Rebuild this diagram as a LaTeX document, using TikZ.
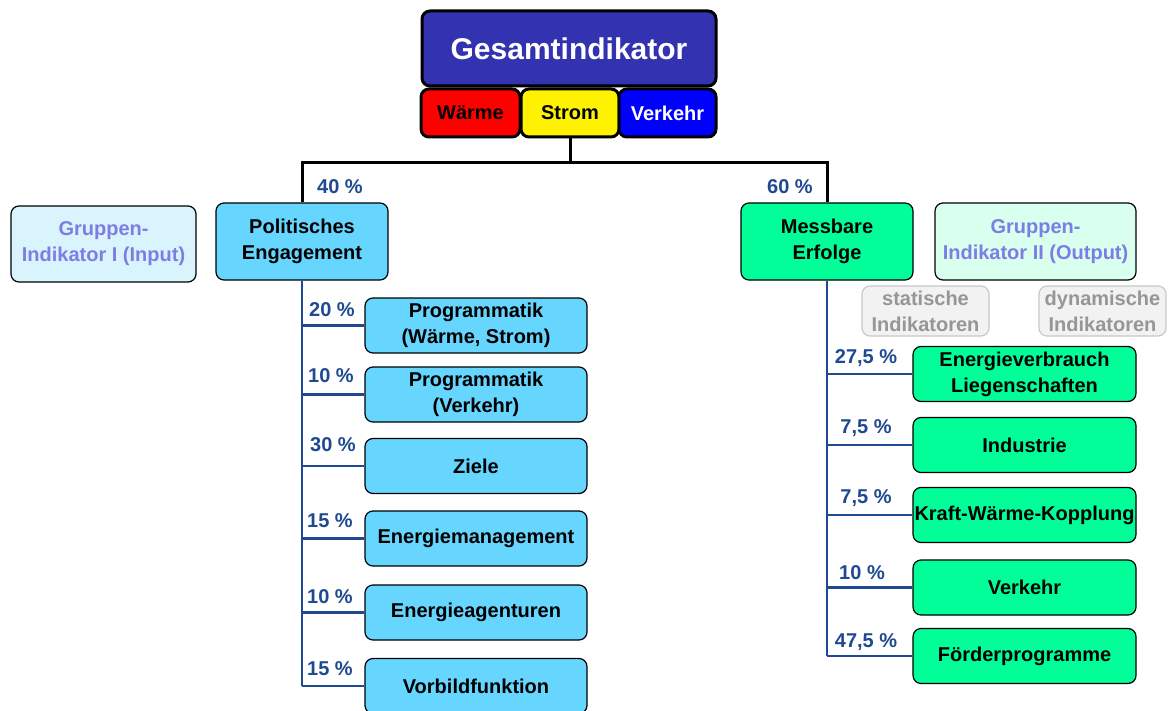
\documentclass[tikz,border=0pt]{standalone}
\usepackage{fontspec}
\setmainfont{Liberation Sans}
\begin{document}
\begin{tikzpicture}[x=1pt,y=-1pt,
  font=\bfseries\fontsize{20}{26}\selectfont,
  base/.style={rounded corners=8pt, draw=black, line width=1.2pt, align=center, inner sep=0pt},
  topbox/.style={base, line width=3pt},
  blu/.style={base, fill=polblue, minimum width=222pt, minimum height=55pt},
  grn/.style={base, fill=msgreen, minimum width=223pt, minimum height=55pt},
  grey/.style={base, draw=greyline, fill=greyfill, text=greytext, minimum width=127pt, minimum height=50pt},
  pct/.style={text=pctblue, inner sep=0pt},
  trunk/.style={draw=pctblue, line width=2.2pt},
  mainline/.style={draw=black, line width=3pt}
]
\definecolor{gesblue}{RGB}{51,51,178}
\definecolor{polblue}{RGB}{102,214,255}
\definecolor{polpale}{RGB}{217,244,253}
\definecolor{msgreen}{RGB}{0,255,153}
\definecolor{mspale}{RGB}{217,255,239}
\definecolor{grptext}{RGB}{125,125,228}
\definecolor{greyfill}{RGB}{242,242,242}
\definecolor{greyline}{RGB}{200,200,200}
\definecolor{greytext}{RGB}{150,150,150}
\definecolor{pctblue}{RGB}{31,73,145}
\useasboundingbox (0,0) rectangle (1169,711);

% top
\node[topbox, fill=gesblue, text=white, minimum width=294pt, minimum height=75pt,
      font=\bfseries\fontsize{30}{36}\selectfont] (ges) at (569,48.5) {Gesamtindikator};
\node[topbox, fill=red, minimum width=99pt, minimum height=48pt] (waerme) at (470.5,113) {Wärme};
\node[topbox, fill=yellow, minimum width=98pt, minimum height=48pt] (strom) at (570,113) {Strom};
\node[topbox, fill=blue, text=white, minimum width=97pt, minimum height=48pt] (verkehr) at (667.5,113) {Verkehr};

% second level
\node[base, fill=polpale, text=grptext, minimum width=185pt, minimum height=76pt] (g1) at (103.5,244) {Gruppen-\\Indikator I (Input)};
\node[base, fill=polblue, minimum width=172pt, minimum height=77pt] (pe) at (302,241.5) {Politisches\\Engagement};
\node[base, fill=msgreen, minimum width=172pt, minimum height=77pt] (me) at (827,241.5) {Messbare\\Erfolge};
\node[base, fill=mspale, text=grptext, minimum width=201pt, minimum height=77pt] (g2) at (1035.5,241.5) {Gruppen-\\Indikator II (Output)};
\node[grey] (stat) at (925.5,311) {statische\\Indikatoren};
\node[grey] (dyn) at (1102.5,311) {dynamische\\Indikatoren};

\coordinate (hub) at (570,163);
\draw[mainline] (strom.south) -- (hub);
\draw[mainline] (pe.north) |- (hub) -| (me.north);
\node[pct] (p40) at (340,187) {40 \%};
\node[pct] (p60) at (790,187) {60 \%};

% left children
\node[blu] (l1) at (476,325.5) {Programmatik\\(Wärme, Strom)};
\node[blu] (l2) at (476,394.5) {Programmatik\\(Verkehr)};
\node[blu] (l3) at (476,466) {Ziele};
\node[blu] (l4) at (476,538.5) {Energiemanagement};
\node[blu] (l5) at (476,612.5) {Energieagenturen};
\node[blu] (l6) at (476,686) {Vorbildfunktion};

\draw[trunk] (pe.south) -- (pe.south |- l6.west);
\foreach \n in {l1,l2,l3,l4,l5,l6} \draw[trunk] (pe.south |- \n.west) -- (\n.west);

\node[pct] (lp1) at (332,310) {20 \%};
\node[pct] (lp2) at (331,376) {10 \%};
\node[pct] (lp3) at (333,445) {30 \%};
\node[pct] (lp4) at (330,521) {15 \%};
\node[pct] (lp5) at (330,597) {10 \%};
\node[pct] (lp6) at (330,669) {15 \%};

% right children
\node[grn] (r1) at (1024.5,374) {Energieverbrauch\\Liegenschaften};
\node[grn] (r2) at (1024.5,445) {Industrie};
\node[grn] (r3) at (1024.5,515) {Kraft-Wärme-Kopplung};
\node[grn] (r4) at (1024.5,587.5) {Verkehr};
\node[grn] (r5) at (1024.5,656) {Förderprogramme};

\draw[trunk] (me.south) -- (me.south |- r5.west);
\foreach \n in {r1,r2,r3,r4,r5} \draw[trunk] (me.south |- \n.west) -- (\n.west);

\node[pct] (rp1) at (866,358) {27,5 \%};
\node[pct] (rp2) at (866,428) {7,5 \%};
\node[pct] (rp3) at (866,498) {7,5 \%};
\node[pct] (rp4) at (862,573) {10 \%};
\node[pct] (rp5) at (866,642) {47,5 \%};
\end{tikzpicture}
\end{document}
